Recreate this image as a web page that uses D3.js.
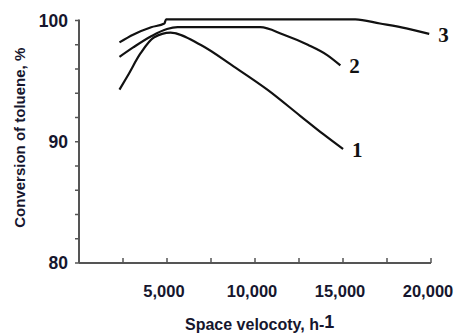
<!DOCTYPE html>
<html>
<head>
<meta charset="utf-8">
<script src="https://cdn.jsdelivr.net/npm/d3@7"></script>
<style>
    body { margin: 0; background: #fff; }
    svg { display: block; }
    .tick-label { font-family: "Liberation Sans", Arial, sans-serif; font-weight: bold; fill: #16162e; }
    .curve-label { font-family: "Liberation Serif", "Times New Roman", serif; font-weight: bold; fill: #111; }
</style>
</head>
<body>
<div id="chart"></div>
<script>
"use strict"

// Space velocity (h-1) and toluene conversion (%) for each curve
const speed1 = [2300, 2750, 3500, 4250, 5200, 6900, 8800, 10700, 12600, 13900, 15000]
const conv1 = [94.3, 95.4, 97.3, 98.6, 99.0, 98.0, 96.2, 94.3, 92.1, 90.6, 89.4]

const speed2 = [2300, 3100, 4100, 5000, 5600, 10300, 11600, 13000, 14100, 14850]
const conv2 = [97.0, 97.8, 98.7, 99.3, 99.45, 99.45, 98.85, 98.0, 97.15, 96.3]

const speed3 = [2300, 3100, 4100, 4850, 4950, 15700, 17100, 18600, 19900]
const conv3 = [98.2, 98.85, 99.45, 99.75, 100.1, 100.1, 99.75, 99.35, 98.9]

const curveNames = ["1", "2", "3"]

const xTicks = [2500, 5000, 7500, 10000, 12500, 15000, 17500, 20000]
const xTickLabels = ["5,000", "10,000", "15,000", "20,000"]
const yTicks = [80, 82, 84, 86, 88, 90, 92, 94, 96, 98, 100]
const yTickLabels = ["80", "90", "100"]

const width = 461, height = 333
const x = d3.scaleLinear().domain([0, 20000]).range([79, 431])
const y = d3.scaleLinear().domain([80, 100]).range([263, 20.5])

const svg = d3.select("#chart")
    .append("svg")
    .attr("width", width)
    .attr("height", height)

// axes
const axisColor = "#555"
svg.append("line")
    .attr("x1", x(0)).attr("x2", x(0))
    .attr("y1", y(100) - 1).attr("y2", y(80))
    .attr("stroke", axisColor).attr("stroke-width", 2)
svg.append("line")
    .attr("x1", x(0)).attr("x2", x(20000))
    .attr("y1", y(80)).attr("y2", y(80))
    .attr("stroke", axisColor).attr("stroke-width", 2)

svg.selectAll(".y-tick")
    .data(yTicks)
    .enter()
    .append("line")
    .attr("x1", x(0) - 4).attr("x2", x(0))
    .attr("y1", d => y(d)).attr("y2", d => y(d))
    .attr("stroke", axisColor).attr("stroke-width", 1.5)

svg.selectAll(".x-tick")
    .data(xTicks)
    .enter()
    .append("line")
    .attr("x1", d => x(d)).attr("x2", d => x(d))
    .attr("y1", y(80) - 5).attr("y2", y(80))
    .attr("stroke", axisColor).attr("stroke-width", 1.5)

svg.selectAll(".y-label")
    .data(yTickLabels)
    .enter()
    .append("text")
    .classed("tick-label", true)
    .attr("x", x(0) - 11)
    .attr("y", d => y(+d))
    .attr("dy", "0.36em")
    .attr("text-anchor", "end")
    .style("font-size", "17.5px")
    .text(d => d)

svg.selectAll(".x-label")
    .data(xTickLabels)
    .enter()
    .append("text")
    .classed("tick-label", true)
    .attr("x", d => x(+d.replace(",", "")) - 3)
    .attr("y", 297)
    .attr("text-anchor", "middle")
    .style("font-size", "16.5px")
    .text(d => d)

// axis titles
svg.append("text")
    .classed("tick-label", true)
    .attr("transform", `translate(25, ${(y(80) + y(100)) / 2 - 4}) rotate(-90)`)
    .attr("text-anchor", "middle")
    .style("font-size", "15px")
    .text("Conversion of toluene, %")

const xTitle = svg.append("text")
    .classed("tick-label", true)
    .attr("x", 185)
    .attr("y", 330)
    .style("font-size", "16px")
xTitle.append("tspan").text("Space velocoty, h-")
xTitle.append("tspan").attr("dy", -2).style("font-size", "18px").text("1")

// curves
const series = [
    { name: curveNames[0], xs: speed1, ys: conv1 },
    { name: curveNames[1], xs: speed2, ys: conv2 },
    { name: curveNames[2], xs: speed3, ys: conv3 },
]
const line = d3.line()
    .x(d => x(d[0]))
    .y(d => y(d[1]))
    .curve(d3.curveMonotoneX)

series.forEach(s => {
    const pts = s.xs.map((v, i) => [v, s.ys[i]])
    svg.append("path")
        .attr("d", line(pts))
        .attr("fill", "none")
        .attr("stroke", "#111")
        .attr("stroke-width", 2.2)
    const last = pts[pts.length - 1]
    svg.append("text")
        .classed("curve-label", true)
        .attr("x", x(last[0]) + 9)
        .attr("y", y(last[1]) + 8)
        .style("font-size", "21px")
        .text(s.name)
})
</script>
</body>
</html>
